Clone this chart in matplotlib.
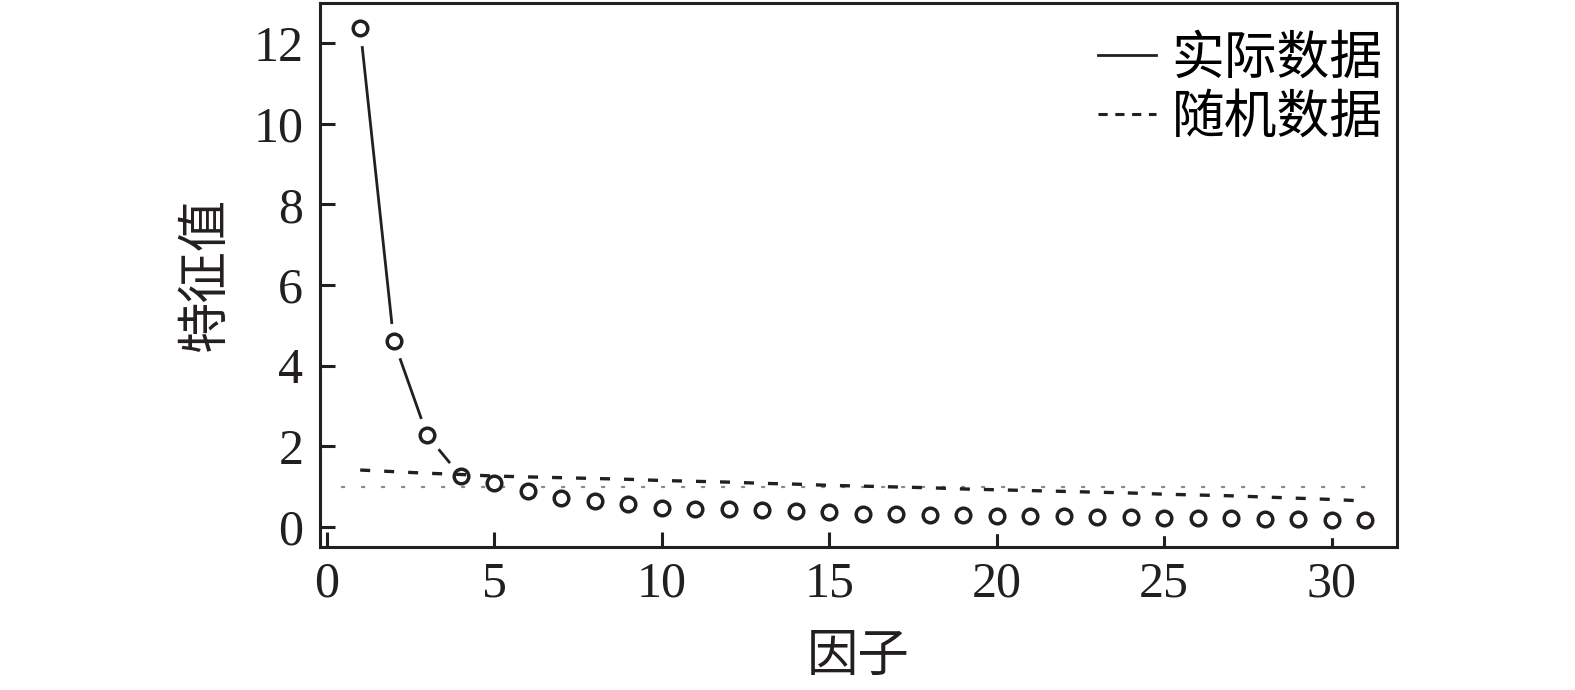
import numpy as np
import matplotlib.pyplot as plt
from matplotlib.lines import Line2D

# scree plot with parallel analysis
factors = np.arange(1, 32)
actual_eig = [12.38, 4.62, 2.27, 1.26, 1.10, 0.89, 0.71, 0.63, 0.57, 0.48,
              0.45, 0.44, 0.42, 0.39, 0.37, 0.33, 0.31, 0.30, 0.29, 0.28,
              0.27, 0.26, 0.25, 0.24, 0.23, 0.22, 0.21, 0.20, 0.19, 0.18, 0.16]
random_eig = [1.41, 1.37, 1.33, 1.30, 1.26, 1.24, 1.22, 1.20, 1.18, 1.15,
              1.13, 1.11, 1.08, 1.06, 1.03, 1.01, 0.99, 0.97, 0.94, 0.92,
              0.90, 0.88, 0.86, 0.84, 0.81, 0.79, 0.77, 0.74, 0.71, 0.68, 0.64]
ref_x = [0.45, 31.5]
ref_y = [1, 1]

x_ticks = [0, 5, 10, 15, 20, 25, 30]
y_ticks = [0, 2, 4, 6, 8, 10, 12]
legend_labels = ['实际数据', '随机数据']

plt.rcParams['font.family'] = ['Liberation Serif', 'Noto Sans CJK SC', 'DejaVu Sans']

fig = plt.figure(figsize=(15.75, 6.9), dpi=100)
ax = fig.add_axes([320 / 1575, 1 - 547 / 690, 1077 / 1575, 544 / 690])

col = '#231f20'
# solid line, broken around the points (white masks)
ax.plot(factors, actual_eig, '-', color=col, lw=2.0, zorder=1)
ax.plot(factors, actual_eig, 'o', ms=24.5, mfc='white', mec='white', zorder=2)
ax.plot(ref_x, ref_y, color='#888888', lw=1.6, ls=(0, (1, 8)),
        dash_capstyle='round', zorder=3)
ax.plot(factors, random_eig, color=col, lw=2.4, ls=(0, (3, 4.2)), zorder=3)
ax.plot(factors, actual_eig, 'o', ms=10.5, mfc='none', mec=col, mew=2.5, zorder=4)

ax.set_xlim(-0.2, 31.95)
ax.set_ylim(-0.5, 13)
ax.set_xticks(x_ticks)
ax.set_yticks(y_ticks)
ax.tick_params(direction='in', length=11, width=2.2, labelsize=36, color=col,
               labelcolor=col)
ax.tick_params(axis='y', pad=12)
ax.tick_params(axis='x', pad=10)
for s in ax.spines.values():
    s.set_linewidth(2.2)
    s.set_color(col)

ax.set_xlabel('因子', fontsize=37, color=col, labelpad=20)
ax.set_ylabel('特征值', fontsize=37, color=col, labelpad=16)

handles = [Line2D([], [], color=col, lw=2.0),
           Line2D([], [], color=col, lw=2.2, ls=(0, (3, 2.5)))]
ax.legend(handles, legend_labels, loc='upper right', frameon=False,
          fontsize=38, handlelength=1.1, handletextpad=0.3, labelspacing=0.2,
          borderaxespad=0.3, bbox_to_anchor=(1.021, 1.008))

fig.savefig('out.png', dpi=100)
